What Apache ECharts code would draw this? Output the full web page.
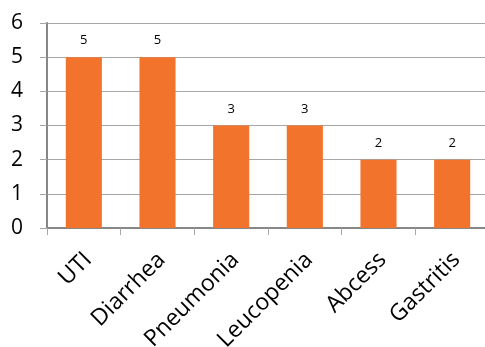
<!DOCTYPE html>
<html><head><meta charset="utf-8">
<script src="https://cdn.jsdelivr.net/npm/echarts@6/dist/echarts.min.js"></script>
<style>html,body{margin:0;padding:0;background:#fff}#c{width:485px;height:347px}</style>
</head><body><div id="c"></div>
<script>
const categories = ["UTI", "Diarrhea", "Pneumonia", "Leucopenia", "Abcess", "Gastritis"];
const values = [5, 5, 3, 3, 2, 2];
const yTicks = [0, 1, 2, 3, 4, 5, 6];

const chart = echarts.init(document.getElementById('c'), null, {renderer: 'canvas'});
chart.setOption({
  animation: false,
  grid: {left: 47, right: -4, top: 23, bottom: 119, containLabel: false, outerBoundsMode: 'none'},
  xAxis: {
    type: 'category', data: categories,
    axisLine: {lineStyle: {color: '#878787', width: 2}},
    axisTick: {show: true, alignWithLabel: false, length: 7, lineStyle: {color: '#a6a6a6', width: 1}},
    axisLabel: {rotate: 45, fontSize: 23, lineHeight: 12, color: '#000', fontFamily: 'Open Sans', margin: 24, interval: 0, verticalAlign: 'top'}
  },
  yAxis: {
    type: 'value', min: yTicks[0], max: yTicks[yTicks.length-1], interval: 1,
    axisLine: {show: true, lineStyle: {color: '#878787', width: 2}},
    axisTick: {show: true, length: 7, lineStyle: {color: '#a6a6a6', width: 1}},
    axisLabel: {fontSize: 21, color: '#000', fontFamily: 'Open Sans', margin: 24},
    splitLine: {show: true, lineStyle: {color: '#a6a6a6', width: 1}}
  },
  series: [{
    type: 'bar', data: values, barWidth: '49%',
    itemStyle: {color: '#F2732B'},
    label: {show: true, position: 'top', distance: 10, fontSize: 13, color: '#000', fontFamily: 'Open Sans'}
  }]
});
</script></body></html>
